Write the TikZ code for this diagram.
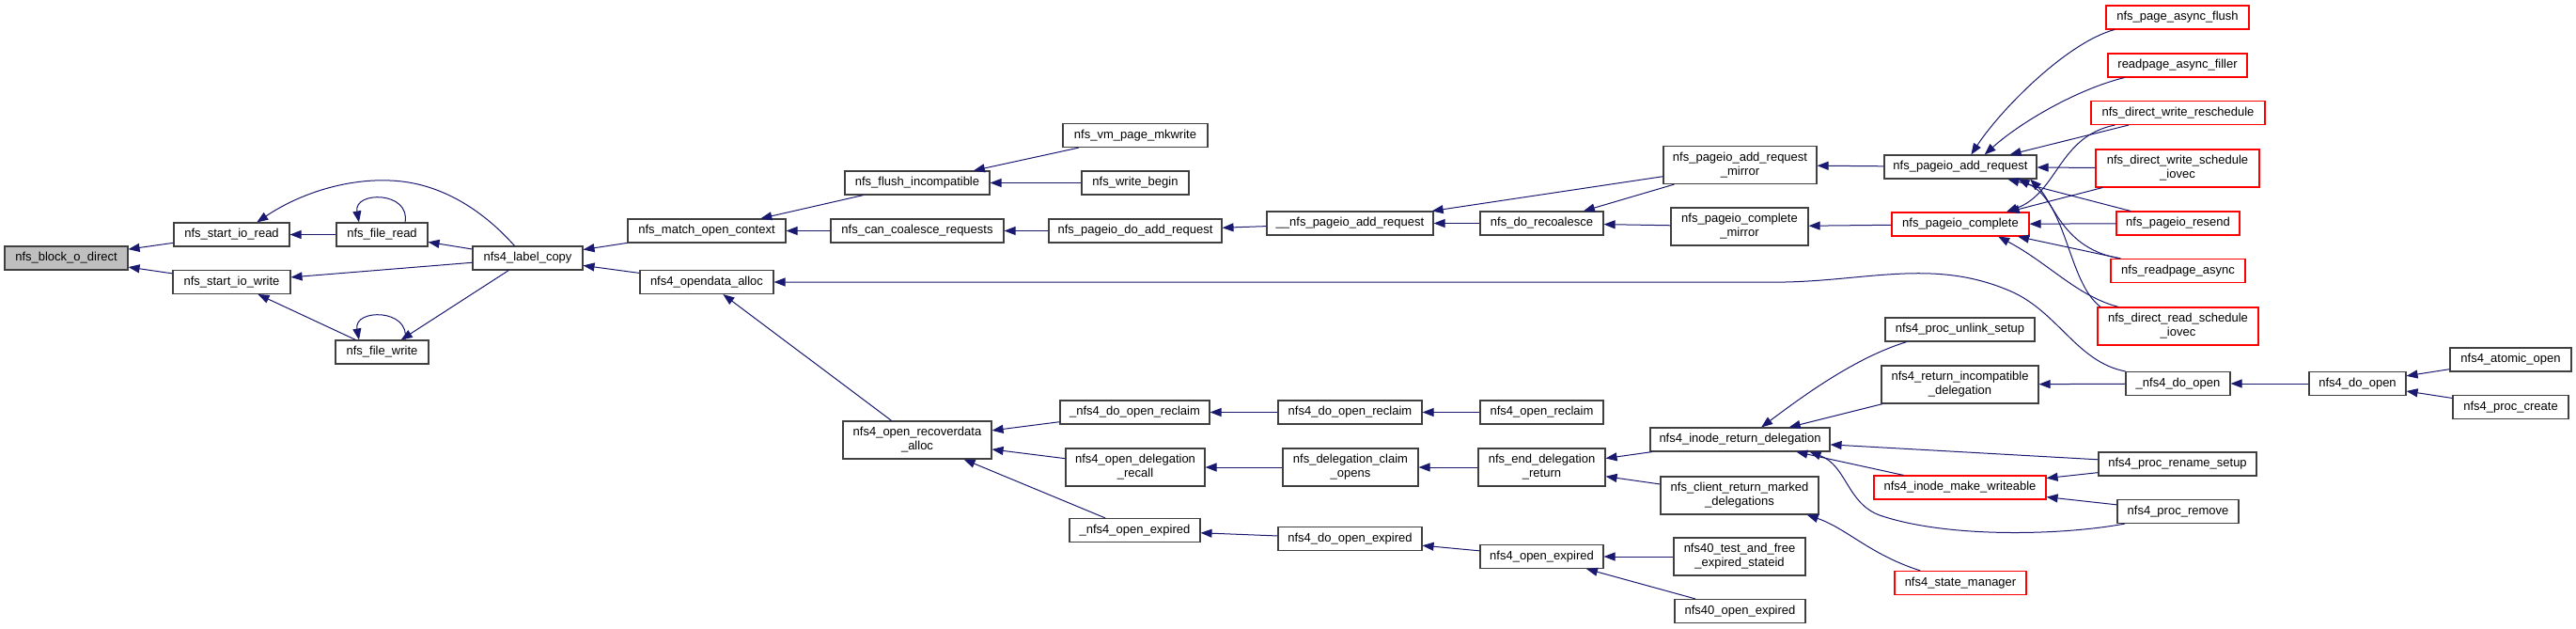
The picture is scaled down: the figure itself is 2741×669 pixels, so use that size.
\documentclass[tikz,border=0pt]{standalone}
\usepackage{fontspec}
\setmainfont{Liberation Sans}
\usetikzlibrary{arrows.meta}
\definecolor{edgeblue}{RGB}{25,25,112}
\definecolor{rootgray}{RGB}{191,191,191}
\tikzset{
  fnbox/.style={draw=black!75, line width=1.1pt, rectangle, minimum height=25pt, inner sep=0pt, align=center, fill=white, font=\fontsize{13}{15}\selectfont},
  redbox/.style={fnbox, draw=red},
  rootbox/.style={fnbox, fill=rootgray},
  tall/.style={minimum height=40pt},
  callarrow/.style={<-, >={Triangle[length=12pt,width=9pt]}, draw=edgeblue, line width=1pt}
}

\begin{document}
\begin{tikzpicture}[x=1pt, y=-1pt]
  \useasboundingbox (0,0) rectangle (2741,669);

  % functions
  \node [rootbox, minimum width=131pt] (blockod) at (70.5,274.5) {nfs\_block\_o\_direct};
  \node [fnbox, minimum width=123pt] (startread) at (246.5,249.5) {nfs\_start\_io\_read};
  \node [fnbox, minimum width=125pt] (startwrite) at (246.5,300) {nfs\_start\_io\_write};
  \node [fnbox, minimum width=97pt] (fileread) at (406.5,249.5) {nfs\_file\_read};
  \node [fnbox, minimum width=99pt] (filewrite) at (406.5,374.5) {nfs\_file\_write};
  \node [fnbox, minimum width=117pt] (labelcopy) at (561.5,274.5) {nfs4\_label\_copy};
  \node [fnbox, minimum width=168pt] (matchctx) at (752,245.5) {nfs\_match\_open\_context};
  \node [fnbox, minimum width=142pt] (opendata) at (752,300) {nfs4\_opendata\_alloc};
  \node [fnbox, minimum width=154pt] (flushinc) at (976,194.5) {nfs\_flush\_incompatible};
  \node [fnbox, minimum width=184pt] (coalesce) at (976,245.5) {nfs\_can\_coalesce\_requests};
  \node [fnbox, tall, minimum width=158pt] (recoverdata) at (976,468) {nfs4\_open\_recoverdata\\\_alloc};
  \node [fnbox, minimum width=154pt] (mkwrite) at (1208,144) {nfs\_vm\_page\_mkwrite};
  \node [fnbox, minimum width=114pt] (writebegin) at (1208,194.5) {nfs\_write\_begin};
  \node [fnbox, minimum width=184pt] (doaddreq) at (1208,245.5) {nfs\_pageio\_do\_add\_request};
  \node [fnbox, minimum width=159pt] (udoopenreclaim) at (1207.5,438.5) {\_nfs4\_do\_open\_reclaim};
  \node [fnbox, tall, minimum width=148pt] (delegrecall) at (1208,497) {nfs4\_open\_delegation\\\_recall};
  \node [fnbox, minimum width=139pt] (uopenexpired) at (1207.5,564) {\_nfs4\_open\_expired};
  \node [fnbox, minimum width=177pt] (upageioadd) at (1436.5,237.5) {\_\_nfs\_pageio\_add\_request};
  \node [fnbox, minimum width=153pt] (doopenreclaim) at (1436.5,438.5) {nfs4\_do\_open\_reclaim};
  \node [fnbox, tall, minimum width=144pt] (claimopens) at (1437,497) {nfs\_delegation\_claim\\\_opens};
  \node [fnbox, minimum width=153pt] (doopenexpired) at (1436.5,573) {nfs4\_do\_open\_expired};
  \node [fnbox, minimum width=131pt] (recoalesce) at (1640.5,237.5) {nfs\_do\_recoalesce};
  \node [fnbox, minimum width=131pt] (openreclaim) at (1640.5,438.5) {nfs4\_open\_reclaim};
  \node [fnbox, tall, minimum width=135pt] (enddeleg) at (1640.5,497) {nfs\_end\_delegation\\\_return};
  \node [fnbox, minimum width=131pt] (openexpired) at (1640.5,592) {nfs4\_open\_expired};
  \node [fnbox, tall, minimum width=163pt] (addmirror) at (1851.5,175.5) {nfs\_pageio\_add\_request\\\_mirror};
  \node [fnbox, tall, minimum width=146pt] (completemirror) at (1851,241) {nfs\_pageio\_complete\\\_mirror};
  \node [fnbox, minimum width=191pt] (inoderet) at (1851.5,467.5) {nfs4\_inode\_return\_delegation};
  \node [fnbox, tall, minimum width=168pt] (clientret) at (1851,527) {nfs\_client\_return\_marked\\\_delegations};
  \node [fnbox, tall, minimum width=140pt] (testfree) at (1851,592) {nfs40\_test\_and\_free\\\_expired\_stateid};
  \node [fnbox, minimum width=139pt] (open40) at (1851.5,650) {nfs40\_open\_expired};
  \node [fnbox, minimum width=162pt] (pageioadd) at (2086,177.5) {nfs\_pageio\_add\_request};
  \node [redbox, minimum width=146pt] (pageiocomplete) at (2086,238.5) {nfs\_pageio\_complete};
  \node [fnbox, minimum width=159pt] (unlinksetup) at (2085.5,350.5) {nfs4\_proc\_unlink\_setup};
  \node [fnbox, tall, minimum width=167pt] (retincompat) at (2085.5,409) {nfs4\_return\_incompatible\\\_delegation};
  \node [redbox, minimum width=183pt] (makewriteable) at (2085.5,518.5) {nfs4\_inode\_make\_writeable};
  \node [redbox, minimum width=140pt] (statemanager) at (2086,620) {nfs4\_state\_manager};
  \node [redbox, minimum width=152pt] (asyncflush) at (2317,18.5) {nfs\_page\_async\_flush};
  \node [redbox, minimum width=148pt] (asyncfiller) at (2317,69.5) {readpage\_async\_filler};
  \node [redbox, minimum width=185pt] (writeresched) at (2317.5,120) {nfs\_direct\_write\_reschedule};
  \node [redbox, tall, minimum width=174pt] (writesched) at (2317,179) {nfs\_direct\_write\_schedule\\\_iovec};
  \node [redbox, minimum width=131pt] (resend) at (2317.5,237.5) {nfs\_pageio\_resend};
  \node [redbox, minimum width=143pt] (readpageasync) at (2317.5,288) {nfs\_readpage\_async};
  \node [redbox, tall, minimum width=171pt] (readsched) at (2317.5,347) {nfs\_direct\_read\_schedule\\\_iovec};
  \node [fnbox, minimum width=111pt] (udoopen) at (2317.5,408) {\_nfs4\_do\_open};
  \node [fnbox, minimum width=168pt] (renamesetup) at (2317,493.5) {nfs4\_proc\_rename\_setup};
  \node [fnbox, minimum width=129pt] (procremove) at (2317.5,544) {nfs4\_proc\_remove};
  \node [fnbox, minimum width=103pt] (doopen) at (2508.5,408) {nfs4\_do\_open};
  \node [fnbox, minimum width=129pt] (atomicopen) at (2671.5,382.5) {nfs4\_atomic\_open};
  \node [fnbox, minimum width=123pt] (proccreate) at (2671.5,433) {nfs4\_proc\_create};

  % calls (arrow at the callee)
  \draw [callarrow] (blockod) -- (startread);
  \draw [callarrow] (blockod) -- (startwrite);
  \draw [callarrow] (startread) -- (fileread);
  \draw [callarrow] (startread.26) .. controls (320,205) and (370,190) .. (415,192) .. controls (470,194) and (515,225) .. (labelcopy.137);
  \draw [callarrow] (fileread.152) .. controls (376,203) and (437,203) .. (fileread.28);
  \draw [callarrow] (fileread) -- (labelcopy);
  \draw [callarrow] (startwrite) -- (labelcopy);
  \draw [callarrow] (startwrite) -- (filewrite);
  \draw [callarrow] (filewrite.152) .. controls (376,328) and (437,328) .. (filewrite.28);
  \draw [callarrow] (filewrite) -- (labelcopy);
  \draw [callarrow] (labelcopy) -- (matchctx);
  \draw [callarrow] (labelcopy) -- (opendata);
  \draw [callarrow] (matchctx) -- (flushinc);
  \draw [callarrow] (matchctx) -- (coalesce);
  \draw [callarrow] (flushinc) -- (mkwrite);
  \draw [callarrow] (flushinc) -- (writebegin);
  \draw [callarrow] (coalesce) -- (doaddreq);
  \draw [callarrow] (doaddreq) -- (upageioadd);
  \draw [callarrow] (upageioadd) -- (addmirror);
  \draw [callarrow] (upageioadd) -- (recoalesce);
  \draw [callarrow] (recoalesce) -- (addmirror);
  \draw [callarrow] (recoalesce) -- (completemirror);
  \draw [callarrow] (addmirror) -- (pageioadd);
  \draw [callarrow] (completemirror) -- (pageiocomplete);
  \draw [callarrow] (pageioadd.49) .. controls (2130,115) and (2200,45) .. (asyncflush.191);
  \draw [callarrow] (pageioadd.27) .. controls (2150,130) and (2210,95) .. (asyncfiller.193);
  \draw [callarrow] (pageioadd) -- (writeresched);
  \draw [callarrow] (pageioadd) -- (writesched);
  \draw [callarrow] (pageioadd) -- (resend);
  \draw [callarrow] (pageioadd.350) .. controls (2185,215) and (2195,265) .. (readpageasync.168);
  \draw [callarrow] (pageioadd.348) .. controls (2200,215) and (2200,300) .. (readsched.166);
  \draw [callarrow] (pageiocomplete.15) .. controls (2190,205) and (2190,145) .. (writeresched.191);
  \draw [callarrow] (pageiocomplete) -- (writesched);
  \draw [callarrow] (pageiocomplete) -- (resend);
  \draw [callarrow] (pageiocomplete) -- (readpageasync);
  \draw [callarrow] (pageiocomplete.342) .. controls (2180,280) and (2210,315) .. (readsched.162);
  \draw [callarrow] (opendata) -- (1900,300) .. controls (1990,298) and (2060,275) .. (2140,310) .. controls (2190,332) and (2210,385) .. (udoopen.north west);
  \draw [callarrow] (opendata) -- (recoverdata);
  \draw [callarrow] (recoverdata) -- (udoopenreclaim);
  \draw [callarrow] (recoverdata) -- (delegrecall);
  \draw [callarrow] (recoverdata) -- (uopenexpired);
  \draw [callarrow] (udoopenreclaim) -- (doopenreclaim);
  \draw [callarrow] (doopenreclaim) -- (openreclaim);
  \draw [callarrow] (delegrecall) -- (claimopens);
  \draw [callarrow] (claimopens) -- (enddeleg);
  \draw [callarrow] (enddeleg) -- (inoderet);
  \draw [callarrow] (enddeleg) -- (clientret);
  \draw [callarrow] (uopenexpired) -- (doopenexpired);
  \draw [callarrow] (doopenexpired) -- (openexpired);
  \draw [callarrow] (openexpired) -- (testfree);
  \draw [callarrow] (openexpired) -- (open40);
  \draw [callarrow] (inoderet.30) .. controls (1920,420) and (1975,380) .. (unlinksetup.193);
  \draw [callarrow] (inoderet) -- (retincompat);
  \draw [callarrow] (inoderet) -- (renamesetup);
  \draw [callarrow] (inoderet) -- (makewriteable);
  \draw [callarrow] (inoderet.350) .. controls (1965,495) and (1965,535) .. (2000,548) .. controls (2070,572) and (2190,570) .. (procremove.193);
  \draw [callarrow] (clientret.344) .. controls (1965,562) and (1990,590) .. (statemanager.163);
  \draw [callarrow] (retincompat) -- (udoopen);
  \draw [callarrow] (makewriteable) -- (renamesetup);
  \draw [callarrow] (makewriteable) -- (procremove);
  \draw [callarrow] (udoopen) -- (doopen);
  \draw [callarrow] (doopen) -- (atomicopen);
  \draw [callarrow] (doopen) -- (proccreate);
\end{tikzpicture}
\end{document}
